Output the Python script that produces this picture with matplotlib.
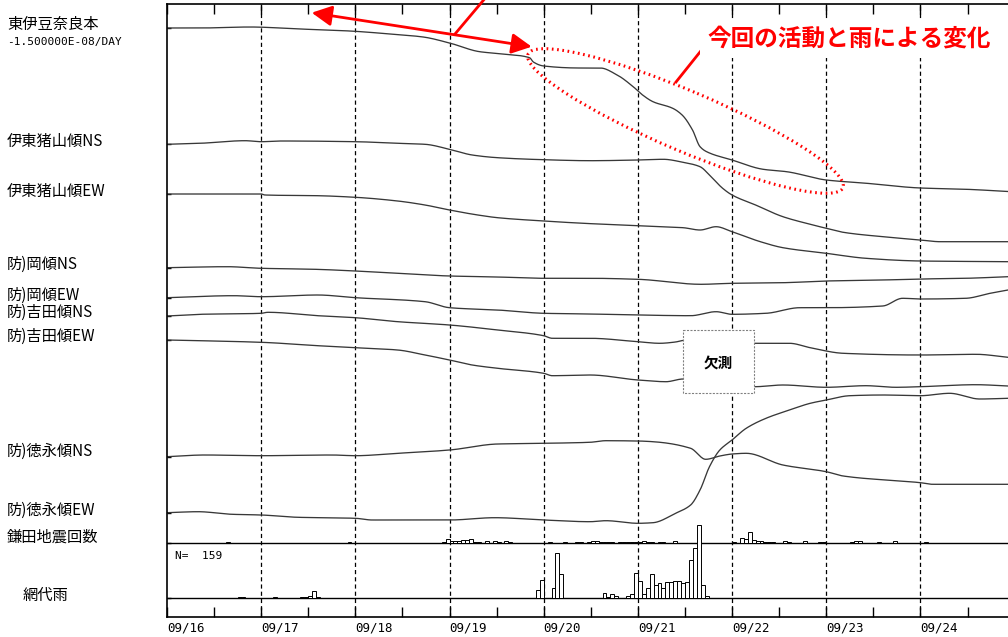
import matplotlib
matplotlib.use('Agg')
import matplotlib.pyplot as plt
from matplotlib.patches import Ellipse, Rectangle
import numpy as np

plt.rcParams['font.family'] = ['Noto Sans CJK JP', 'DejaVu Sans']
plt.rcParams['lines.scale_dashes'] = False

# ---------------- data ----------------
# x: days since 09/16 00:00 ; y: plot offset units (downwards)
day_labels = ['09/16', '09/17', '09/18', '09/19', '09/20', '09/21', '09/22', '09/23', '09/24']

nara_x = [0.00,0.35,0.88,1.41,1.94,2.37,2.72,3.00,3.32,3.57,3.85,3.89,4.00,4.38,4.60,4.78,4.95,5.05,5.16,5.37,5.47,5.58,5.66,5.73,6.00,6.33,6.58,7.00,7.43,8.00,8.49,8.93]
nara_y = [28,28,27,29,31,34,37,43,51.7,54,57.7,62,66,68,68,75,86.7,95,101.7,108.3,115,130,146.7,151.7,160,169.3,171.7,180,183.3,188,189.3,191.5]

inoNS_x = [0.00,0.35,0.83,1.00,1.22,2.00,2.45,2.74,3.00,3.24,3.51,4.00,4.49,5.00,5.27,5.48,5.66,5.76,5.90,6.00,6.25,6.54,6.83,7.00,7.18,7.60,8.00,8.21,8.93]
inoNS_y = [144.3,143.3,140.7,141.7,141,141.7,143.3,144.3,149.3,155,157.7,159.7,160.7,160,159.3,162.3,166.7,175,188.3,195,205,216.7,224.3,228.3,232.3,236.7,240,241.7,241.7]

inoEW_x = [0.00,1.00,1.04,1.60,2.00,2.45,2.74,3.00,3.30,3.51,4.00,4.42,5.00,5.48,5.66,5.83,6.00,6.30,6.54,7.00,7.42,8.00,8.93]
inoEW_y = [194,194,195,195.7,197.3,201,205,210,215,217.7,221,223.3,225.7,227.7,230,226.7,231.7,241.7,247.7,253.3,258.3,261,261.7]

okaNS_x = [0.00,0.64,1.00,1.57,2.00,2.45,3.00,3.51,4.00,4.49,5.00,5.67,6.00,6.54,7.00,7.60,8.00,8.48,8.93]
okaNS_y = [267.7,266.7,268.3,269.3,271,273.3,276,277,278.3,278.3,279.3,284.3,283.3,282.7,281,280,279,278.3,276.7]

okaEW_x = [0.00,0.71,1.00,1.60,2.00,2.74,3.00,3.51,4.00,4.49,5.00,5.56,5.83,6.00,6.36,6.72,7.00,7.60,7.81,8.00,8.48,8.74,8.93]
okaEW_y = [297.7,295.7,296.7,295,297.7,301.7,307.7,310,313.3,314,315,315.7,311.7,314.3,313.3,307.7,307.7,306,298.3,299,298.3,293.3,290]

yosNS_x = [0.00,0.35,1.00,1.07,1.60,2.00,2.45,3.00,3.51,4.00,4.09,4.49,5.00,5.23,5.40,5.48,6.24,6.61,6.83,7.18,8.00,8.59,8.93]
yosNS_y = [316,314.3,313.3,312.3,315.7,317.7,321.7,325,330,335.7,338.3,338.3,341.7,343.3,342,340.5,343.3,343.3,347.7,353.3,355,354.3,357.3]

yosEW_x = [0.00,1.00,1.60,2.00,2.45,2.74,3.00,3.24,3.51,4.00,4.09,4.49,5.00,5.30,5.48,6.24,6.54,7.00,7.42,7.74,8.00,8.59,8.93]
yosEW_y = [340,342.3,345.7,347.7,350,355,360,365,368.3,373.3,375.7,375,380,381.7,379,386.7,385,387.3,385.7,387.3,386.7,384.7,386]

tokNS_x = [0.00,0.40,1.00,1.75,2.00,2.45,3.00,3.51,4.00,4.49,4.66,5.00,5.16,5.56,5.72,5.87,6.00,6.15,6.54,7.00,7.18,8.00,8.13,8.93]
tokNS_y = [456.7,455,455.7,455,455.7,453.3,450,444,443.3,442.3,440.7,441,441.7,448.3,459.3,456,454,453.3,465,471.7,476,482.7,484.3,484.3]

tokEW_x = [0.00,0.33,0.69,1.00,1.39,2.00,2.18,3.00,3.48,4.00,4.49,4.66,5.00,5.16,5.40,5.56,5.66,5.76,5.87,6.00,6.15,6.36,6.61,6.83,7.00,7.25,7.60,8.00,8.31,8.63,8.93]
tokEW_y = [512.7,511.7,514.3,515,517.3,518.3,520,520,517.7,520,521.7,520.7,523.3,522.7,513.3,505,490,466.7,450,440,428.3,418.3,410,403.3,400,395.7,395,395.7,393.3,399,398.3]

# hourly earthquake counts (hour index since 09/16 00:00)
eq_hour = [15,46,70,71,72,73,74,75,76,77,78,79,81,83,84,86,87,
           97,101,104,105,107,108,109,110,111,112,113,115,116,117,118,119,120,121,122,123,125,126,129,
           135,144,146,147,148,149,150,151,152,153,154,157,158,162,166,167,174,175,176,181,185,193]
eq_count = [1,1,1,4,2,2,2,3,3,4,1,1,2,2,1,2,1,
            1,1,1,1,1,2,2,1,1,1,1,1,1,1,1,1,1,2,1,1,1,1,2,
            16,1,5,4,10,3,2,2,1,1,1,2,1,2,1,1,1,2,2,1,2,1]

# hourly rainfall (mm) at 網代
rain_hour = [18,19,27,34,35,36,37,38,94,95,98,99,100,111,112,113,114,117,118,
             119,120,121,122,123,124,125,126,127,128,129,130,131,132,133,134,135,136,137]
rain_mm = [0.5,0.5,0.5,0.5,0.5,1,3.5,0.5,4,9,5,22.5,12,2.5,0.5,2,1,1,2,
           12.5,8.5,2,5,12,6.5,7.5,5,8,8,8.5,8.5,7.5,8,19,25,30,6.5,1]
rain_total = 159

traces = [
    ('東伊豆奈良本', nara_x, nara_y, 24),
    ('伊東猪山傾NS', inoNS_x, inoNS_y, 141.5),
    ('伊東猪山傾EW', inoEW_x, inoEW_y, 191),
    ('防)岡傾NS', okaNS_x, okaNS_y, 264),
    ('防)岡傾EW', okaEW_x, okaEW_y, 295),
    ('防)吉田傾NS', yosNS_x, yosNS_y, 312.5),
    ('防)吉田傾EW', yosEW_x, yosEW_y, 336.5),
    ('防)徳永傾NS', tokNS_x, tokNS_y, 451.5),
    ('防)徳永傾EW', tokEW_x, tokEW_y, 510),
]


def pchip(x, y, xn):
    """Monotone cubic (Fritsch-Carlson) interpolation for smooth drawing."""
    x = np.asarray(x, float)
    y = np.asarray(y, float)
    h = np.diff(x)
    d = np.diff(y) / h
    m = np.zeros_like(y)
    m[0], m[-1] = d[0], d[-1]
    for k in range(1, len(x) - 1):
        if d[k - 1] * d[k] <= 0:
            m[k] = 0.0
        else:
            w1 = 2 * h[k] + h[k - 1]
            w2 = h[k] + 2 * h[k - 1]
            m[k] = (w1 + w2) / (w1 / d[k - 1] + w2 / d[k])
    idx = np.clip(np.searchsorted(x, xn) - 1, 0, len(x) - 2)
    t = (xn - x[idx]) / h[idx]
    h00 = 2 * t**3 - 3 * t**2 + 1
    h10 = t**3 - 2 * t**2 + t
    h01 = -2 * t**3 + 3 * t**2
    h11 = t**3 - t**2
    return h00 * y[idx] + h10 * h[idx] * m[idx] + h01 * y[idx + 1] + h11 * h[idx] * m[idx + 1]


# ---------------- layout ----------------
W, H = 1008, 637
fig = plt.figure(figsize=(W / 100, H / 100), dpi=100)
fig.patch.set_facecolor('white')


def rect(l, t, r, b):
    return [l / W, 1 - b / H, (r - l) / W, (b - t) / H]


XMAX = 8.93
ax = fig.add_axes(rect(167, 4, 1008, 617))
ax.set_xlim(0, XMAX)
ax.set_ylim(617, 4)
for s in ['top', 'left', 'bottom']:
    ax.spines[s].set_linewidth(1.2)
    ax.spines[s].set_color('black')
ax.spines['right'].set_visible(False)

for d in range(1, 9):
    ax.axvline(d, color='black', lw=0.9, dashes=(3, 2.2), zorder=1)
ax.axhline(543, color='black', lw=1.0, zorder=3)
ax.axhline(598, color='black', lw=1.0, zorder=3)

for name, xs, ys, ly in traces:
    xf = np.linspace(xs[0], xs[-1], 900)
    ax.plot(xf, pchip(xs, ys, xf), color='#383838', lw=0.95, zorder=2)

ax.set_xticks(range(0, 9))
ax.set_xticklabels(day_labels)
ax.set_xticks(np.arange(0.5, 9, 1.0), minor=True)
ax.tick_params(axis='x', which='both', direction='in', length=7, width=1,
               top=True, bottom=True, pad=3, labelsize=9)
for lab in ax.get_xticklabels():
    lab.set_horizontalalignment('left')
    lab.set_fontfamily('DejaVu Sans Mono')

ax.set_yticks([t[2][0] for t in traces] + [543, 598])
ax.tick_params(axis='y', direction='in', length=3, width=1, labelleft=False)

# earthquake counts
ax_eq = fig.add_axes(rect(167, 523, 1008, 543))
ax_eq.set_xlim(0, XMAX)
ax_eq.set_ylim(0, 20 / 1.1)
ax_eq.axis('off')
ax_eq.patch.set_alpha(0)
ax_eq.bar(np.array(eq_hour) / 24, eq_count, width=1 / 24, align='edge',
          facecolor='white', edgecolor='black', lw=0.7)

# rainfall
ax_rain = fig.add_axes(rect(167, 543, 1008, 598))
ax_rain.set_xlim(0, XMAX)
ax_rain.set_ylim(0, 27.5)
ax_rain.axis('off')
ax_rain.patch.set_alpha(0)
ax_rain.bar(np.array(rain_hour) / 24, rain_mm, width=1 / 24, align='edge',
            facecolor='white', edgecolor='black', lw=0.7)

# overlay in pixel coordinates for annotations
ov = fig.add_axes([0, 0, 1, 1])
ov.set_xlim(0, W)
ov.set_ylim(H, 0)
ov.axis('off')
ov.patch.set_alpha(0)

for name, xs, ys, ly in traces:
    ov.text(7, ly, name, fontsize=11, va='center', ha='left', color='black')
ov.text(7, 42, '-1.500000E-08/DAY', fontsize=8, va='center', ha='left',
        family='DejaVu Sans Mono')
ov.text(7, 537, '鎌田地震回数', fontsize=11, va='center', ha='left')
ov.text(23, 595, '網代雨', fontsize=11, va='center', ha='left')
ov.text(175, 556, 'N=  %d' % rain_total, fontsize=8, va='center', ha='left',
        family='DejaVu Sans Mono')

# missing-data box
ov.add_patch(Rectangle((683, 330), 71, 63, facecolor='white', edgecolor='#808080',
                       lw=0.8, linestyle=(0, (1.5, 1.0)), zorder=5))
ov.text(718.5, 363, '欠測', fontsize=10.5, fontweight='bold', ha='center', va='center', zorder=6)

# red annotations
red = '#ff0000'
ov.annotate('', xy=(311.7, 12.7), xytext=(531.7, 46.7),
            arrowprops=dict(arrowstyle='<|-|>,head_length=0.55,head_width=0.28',
                            color=red, lw=2, mutation_scale=22, shrinkA=0, shrinkB=0))
ov.plot([455, 487], [34, -4], color=red, lw=2)
ov.add_patch(Ellipse((685.5, 121), 342, 60, angle=23, fill=False, edgecolor=red,
                     lw=2.2, linestyle=(0, (1.2, 2.6)), zorder=7))
ov.plot([676, 704], [82, 47], color=red, lw=2, zorder=7)
ov.text(707, 39, '今回の活動と雨による変化', fontsize=17, fontweight='bold', color=red,
        ha='left', va='center', zorder=8,
        bbox=dict(facecolor='white', edgecolor='none', pad=5))

fig.savefig('out.png', dpi=100, facecolor='white')
